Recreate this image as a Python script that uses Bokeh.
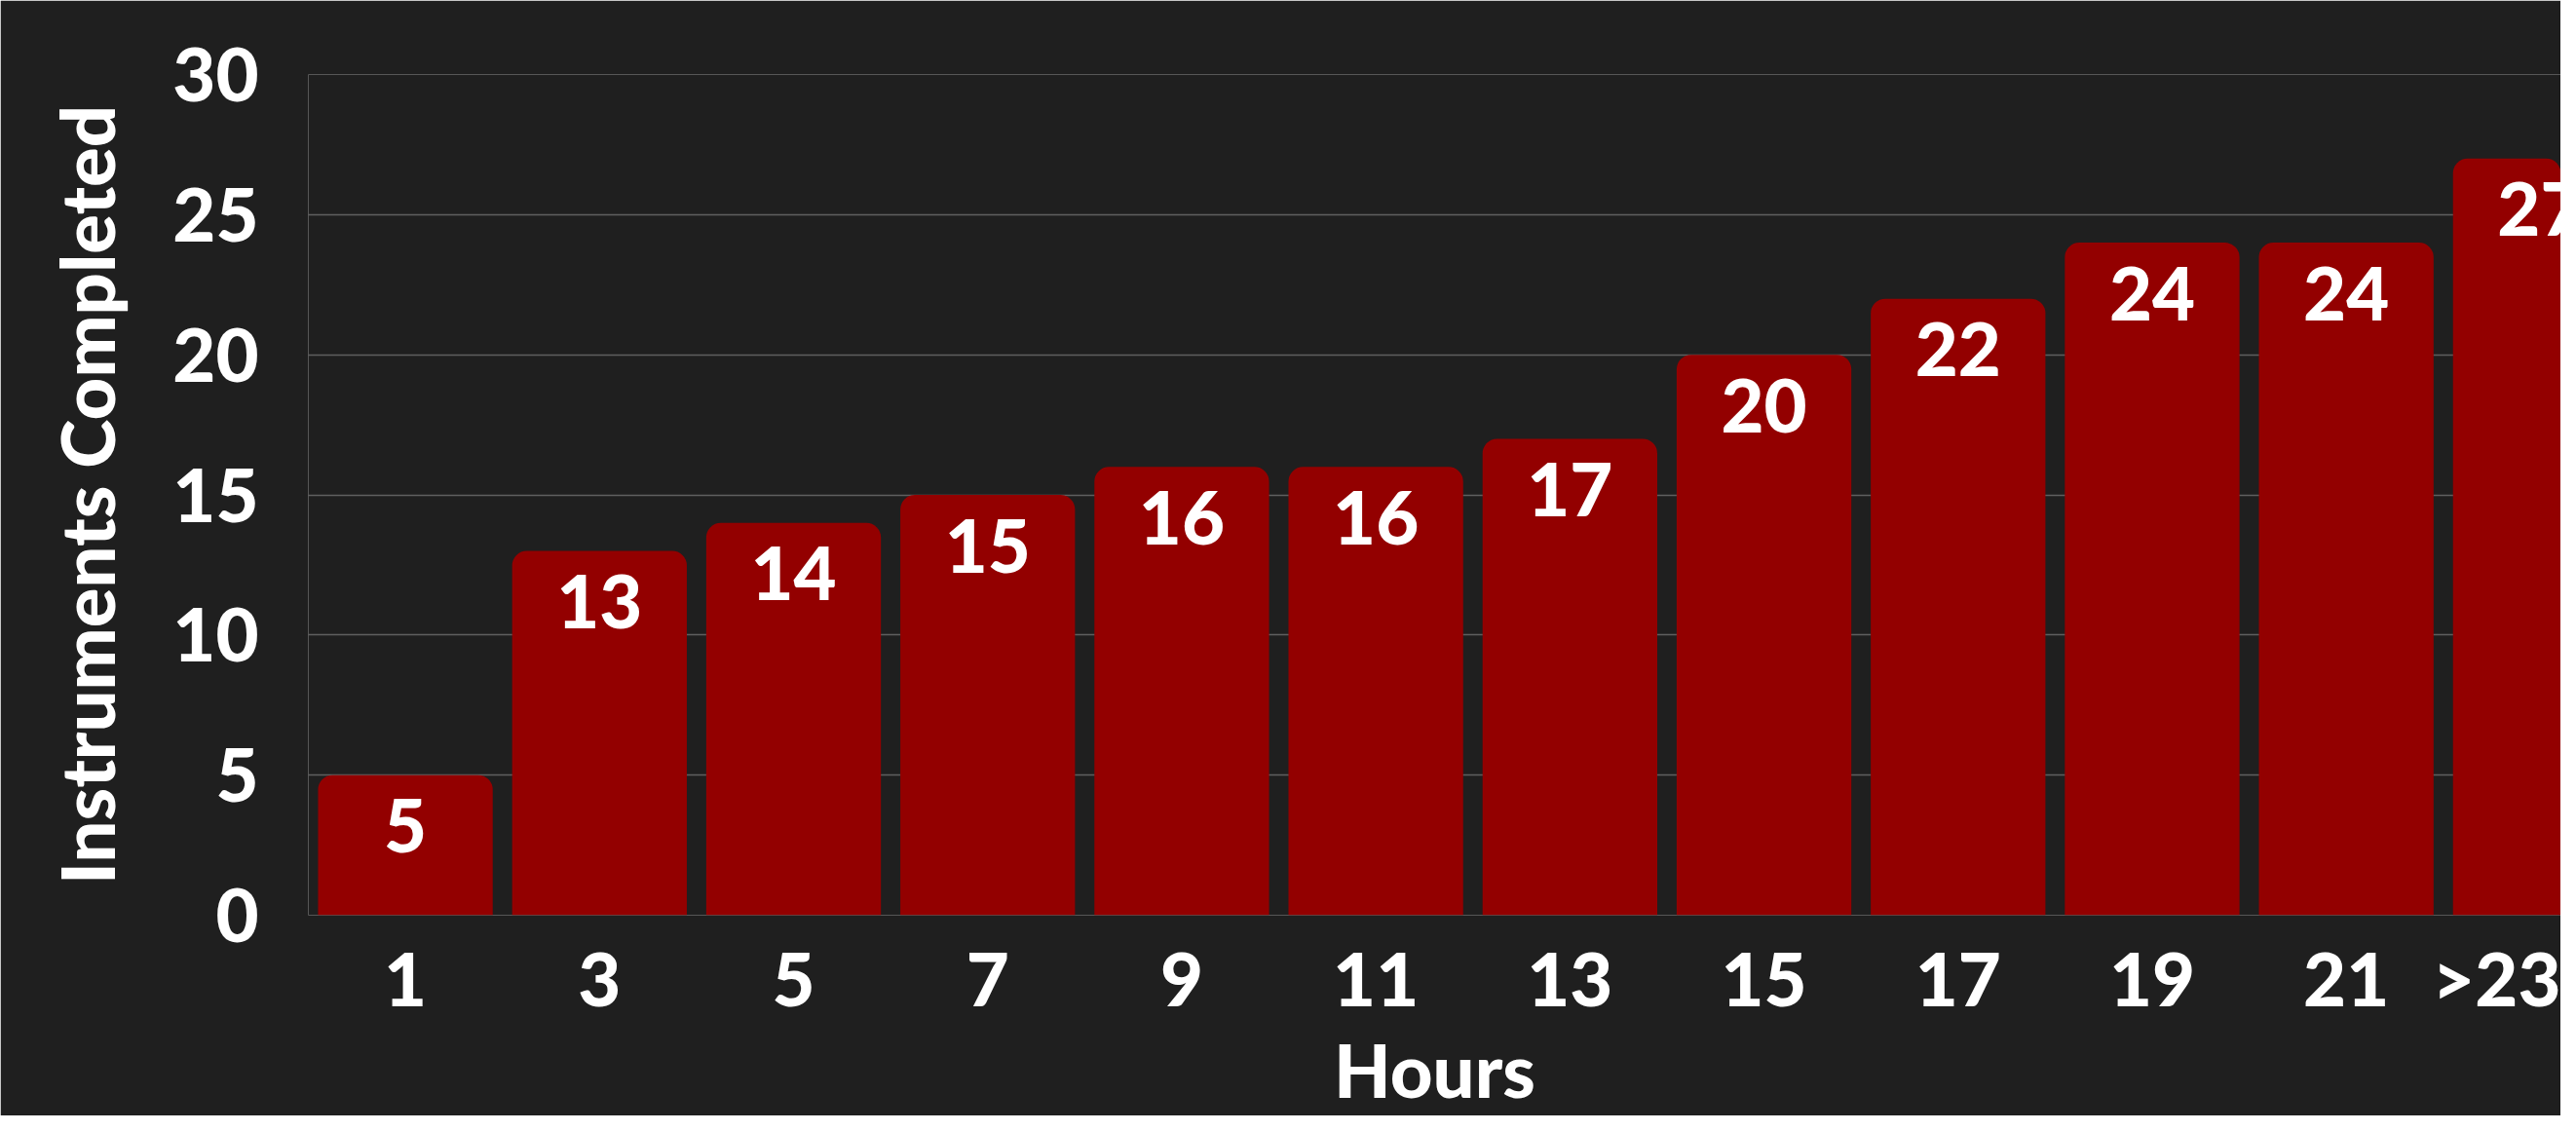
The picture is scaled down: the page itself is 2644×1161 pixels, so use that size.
from bokeh.plotting import figure
from bokeh.models import FixedTicker, Range1d, ColumnDataSource
from bokeh.core.properties import value
from bokeh.embed import file_html
from bokeh.resources import INLINE

# ---- data ----
categories = ["1", "3", "5", "7", "9", "11", "13", "15", "17", "19", "21", ">23"]
counts = [5, 13, 14, 15, 16, 16, 17, 20, 22, 24, 24, 27]
y_ticks = [0, 5, 10, 15, 20, 25, 30]
x_title = "Hours"
y_title = "Instruments Completed"

FONT = "'Lato Black', Lato"
BG = "#1f1f1f"
BAR = "#930000"

idx = list(range(len(categories)))
src = ColumnDataSource(dict(x=idx, top=counts, lab=[str(c) for c in counts]))

p = figure(width=2628, height=1145, output_backend="svg", toolbar_location=None,
           x_range=Range1d(-0.5, 11.106), y_range=Range1d(0, 30),
           min_border_left=316, min_border_right=0, min_border_top=76, min_border_bottom=198)

p.background_fill_color = BG
p.border_fill_color = BG
p.outline_line_color = None

p.vbar(x="x", top="top", bottom=0, width=0.9, source=src, fill_color=BAR, line_color=None,
       border_radius=(15, 15, 0, 0))

p.text(x="x", y="top", text="lab", source=src, text_color="white", text_font=value(FONT),
       text_font_style="bold", text_font_size="76px", text_align="center",
       text_baseline="middle", y_offset=52)

# grid
p.xgrid.grid_line_color = None
p.ygrid.grid_line_color = "#8a8a8a"
p.ygrid.grid_line_alpha = 0.6
p.ygrid.grid_line_width = 1.5
p.ygrid.ticker = FixedTicker(ticks=y_ticks)

# axes
for ax in (p.xaxis[0], p.yaxis[0]):
    ax.axis_line_color = None
    ax.major_tick_line_color = None
    ax.minor_tick_line_color = None
    ax.major_tick_out = 0
    ax.major_tick_in = 0
    ax.major_label_text_color = "white"
    ax.major_label_text_font = FONT
    ax.major_label_text_font_style = "bold"
    ax.major_label_text_font_size = "76px"
    ax.axis_label_text_color = "white"
    ax.axis_label_text_font = FONT
    ax.axis_label_text_font_style = "bold"
    ax.axis_label_text_font_size = "76px"

p.xaxis.ticker = FixedTicker(ticks=idx)
p.xaxis.major_label_overrides = {i: c for i, c in zip(idx, categories)}
p.xaxis.major_label_standoff = 18
p.xaxis.axis_label = x_title
p.xaxis.axis_label_standoff = 0

p.yaxis.ticker = FixedTicker(ticks=y_ticks)
p.yaxis.major_label_standoff = 51
p.yaxis.axis_label = y_title
p.yaxis.axis_label_standoff = 40

open("out.html", "w").write(file_html(p, INLINE))
